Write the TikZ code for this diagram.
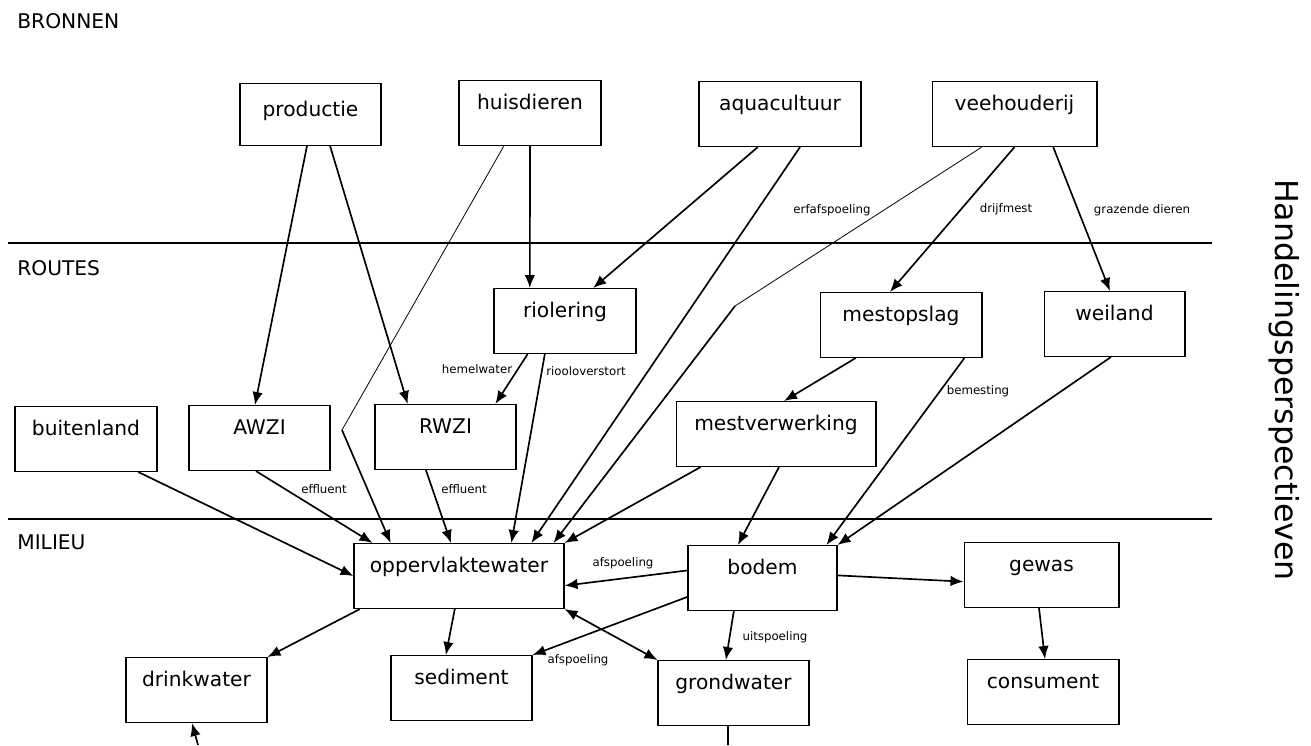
\documentclass[tikz,border=0pt]{standalone}
\usepackage{fontspec}
\setmainfont{DejaVu Sans}
\usetikzlibrary{arrows.meta, calc}

% points on the sides of a box, as a fraction of that side
\newcommand{\onS}[2]{($(#1.south west)!#2!(#1.south east)$)}
\newcommand{\onN}[2]{($(#1.north west)!#2!(#1.north east)$)}
\newcommand{\onW}[2]{($(#1.north west)!#2!(#1.south west)$)}
\newcommand{\onE}[2]{($(#1.north east)!#2!(#1.south east)$)}

\begin{document}
\begin{tikzpicture}[
  x=0.02cm, y=-0.02cm,
  box/.style={draw, line width=0.6pt, anchor=north, inner xsep=0pt, inner ysep=0pt,
    text height=0.58cm, text depth=0.72cm, font=\fontsize{11.5}{13}\selectfont},
  layer/.style={anchor=west, inner sep=0pt, font=\fontsize{11.5}{13}\selectfont},
  lbl/.style={inner sep=0pt, font=\fontsize{6.7}{8}\selectfont},
  flow/.style={line width=0.95pt, -{Latex[length=2.6mm, width=2.1mm]}},
  twoway/.style={line width=0.95pt, {Latex[length=2.6mm, width=2.1mm]}-{Latex[length=2.6mm, width=2.1mm]}},
  thinline/.style={line width=0.45pt}
]
\useasboundingbox (0,0) rectangle (1311,745);

% Layers
\foreach \y/\nm/\txt in {21/bronnen/BRONNEN, 268/routes/ROUTES, 542/milieu/MILIEU}
  \node[layer] (\nm) at (17,\y) {\txt};
\foreach \y in {243,519}
  \draw[line width=0.6pt] (8,\y) -- (1212,\y);

\node[rotate=-90, font=\fontsize{18}{20}\selectfont] (handeling) at (1284,380) {Handelingsperspectieven};

% Bronnen
\node[box, minimum width=2.82cm, text height=0.66cm, text depth=0.58cm] (productie) at (310.5,83) {productie};
\node[box, minimum width=2.84cm] (huisdieren) at (530,80) {huisdieren};
\node[box, minimum width=3.24cm] (aquacultuur) at (780,81) {aquacultuur};
\node[box, minimum width=3.3cm] (veehouderij) at (1014.5,81) {veehouderij};

% Routes
\node[box, minimum width=2.84cm] (riolering) at (565,288) {riolering};
\node[box, minimum width=3.24cm] (mestopslag) at (901,292) {mestopslag};
\node[box, minimum width=2.82cm] (weiland) at (1114.5,291) {weiland};
\node[box, minimum width=2.84cm] (buitenland) at (86,406) {buitenland};
\node[box, minimum width=2.82cm] (AWZI) at (259.5,405) {AWZI};
\node[box, minimum width=2.82cm] (RWZI) at (445.5,404) {RWZI};
\node[box, minimum width=4cm] (mestverwerking) at (776,401) {mestverwerking};

% Milieu
\node[box, minimum width=4.2cm] (oppwater) at (459,543) {oppervlaktewater};
\node[box, minimum width=2.98cm] (bodem) at (762.5,545) {bodem};
\node[box, minimum width=3.1cm] (gewas) at (1041.5,542) {gewas};
\node[box, minimum width=2.82cm] (drinkwater) at (196.5,657) {drinkwater};
\node[box, minimum width=2.82cm] (sediment) at (461.5,655) {sediment};
\node[box, minimum width=3.02cm] (grondwater) at (733.5,660) {grondwater};
\node[box, minimum width=3.04cm] (consument) at (1043,659) {consument};

% Bronnen -> routes
\draw[flow] \onS{productie}{.475} -- \onN{AWZI}{.468};
\draw[flow] \onS{productie}{.638} -- \onN{RWZI}{.234};
\coordinate (kinkH) at (342,430);
\draw[thinline] \onS{huisdieren}{.317} -- (kinkH);
\draw[flow] (kinkH) -- \onN{oppwater}{.176};
\draw[flow] (huisdieren.south) -- \onN{riolering}{.254};
\draw[flow] \onS{aquacultuur}{.364} -- \onN{riolering}{.697};
\draw[flow] \onS{aquacultuur}{.623} -- \onN{oppwater}{.843};
\coordinate (kinkE) at (735,306);
\draw[thinline] \onS{veehouderij}{.303} -- (kinkE);
\draw[flow] (kinkE) -- \onN{oppwater}{.948};
\draw[flow] (veehouderij.south) -- \onN{mestopslag}{.432};
\draw[flow] \onS{veehouderij}{.733} -- \onN{weiland}{.468};

% Routes -> milieu
\draw[flow] \onS{riolering}{.239} -- \onN{RWZI}{.851};
\draw[flow] \onS{riolering}{.359} -- \onN{oppwater}{.748};
\draw[flow] \onS{mestopslag}{.222} -- \onN{mestverwerking}{.54};
\draw[flow] \onS{mestopslag}{.889} -- \onN{bodem}{.926};
\draw[flow] \onS{weiland}{.475} -- (bodem.north east);
\draw[flow] \onS{buitenland}{.866} -- (oppwater.west);
\draw[flow] \onS{AWZI}{.475} -- \onN{oppwater}{.09};
\draw[flow] \onS{RWZI}{.362} -- \onN{oppwater}{.462};
\draw[flow] \onS{mestverwerking}{.125} -- (oppwater.north east);
\draw[flow] \onS{mestverwerking}{.515} -- \onN{bodem}{.336};

% Milieu
\draw[flow] \onW{bodem}{.385} -- \onE{oppwater}{.646};
\draw[flow] \onW{bodem}{.785} -- (sediment.north east);
\draw[flow] \onE{bodem}{.46} -- \onW{gewas}{.6};
\draw[flow] \onS{gewas}{.484} -- \onN{consument}{.513};
\draw[flow] \onS{bodem}{.309} -- \onN{grondwater}{.45};
\draw[twoway] (oppwater.south east) -- (grondwater.north west);
\draw[flow] \onS{oppwater}{.03} -- (drinkwater.north east);
\draw[flow] \onS{oppwater}{.48} -- \onN{sediment}{.39};
\coordinate (outG) at (728,745);
\draw[line width=0.95pt] \onS{grondwater}{.464} -- (outG);
\coordinate (outD) at (198,745);
\draw[flow] (outD) -- \onS{drinkwater}{.468};

% Labels
\node[lbl] (lErf) at (832,210) {erfafspoeling};
\node[lbl] (lDrijf) at (1006,209) {drijfmest};
\node[lbl] (lGraz) at (1142,210) {grazende dieren};
\node[lbl] (lHemel) at (477,369) {hemelwater};
\node[lbl] (lOverstort) at (586,371) {riooloverstort};
\node[lbl] (lBemest) at (978,391) {bemesting};
\node[lbl] (lEff1) at (324,489) {effluent};
\node[lbl] (lEff2) at (464,489) {effluent};
\node[lbl] (lAfsp1) at (623,563) {afspoeling};
\node[lbl] (lAfsp2) at (578,660) {afspoeling};
\node[lbl] (lUit) at (775,637) {uitspoeling};
\end{tikzpicture}
\end{document}
